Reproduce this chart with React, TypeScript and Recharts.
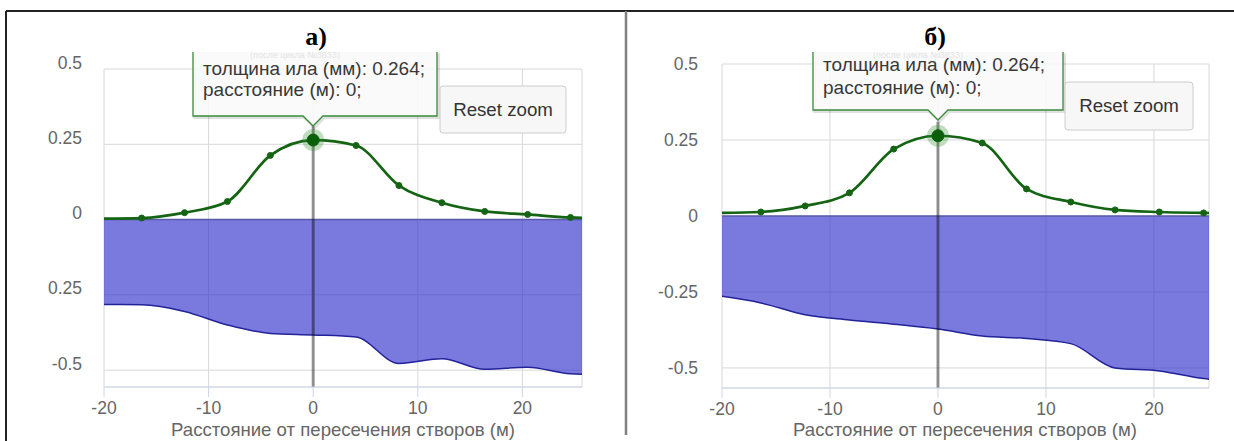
import React from 'react';
import {
  ComposedChart,
  Line,
  Area,
  XAxis,
  YAxis,
  CartesianGrid,
  ReferenceLine,
  ReferenceDot,
} from 'recharts';

// ---- data ----
const DIST = [-20.5, -16.4, -12.3, -8.2, -4.1, 0, 4.1, 8.2, 12.3, 16.4, 20.5, 24.6, 28.7];
const SILT_A = [0.003, 0.005, 0.023, 0.06, 0.213, 0.264, 0.246, 0.113, 0.056, 0.027, 0.017, 0.007, 0.004];
const DEPTH_A = [-0.282, -0.283, -0.305, -0.35, -0.378, -0.383, -0.39, -0.478, -0.462, -0.497, -0.49, -0.512, -0.515];
const SILT_B = [0.01, 0.013, 0.033, 0.076, 0.22, 0.264, 0.24, 0.089, 0.046, 0.02, 0.013, 0.01, 0.008];
const DEPTH_B = [-0.262, -0.286, -0.325, -0.342, -0.356, -0.372, -0.395, -0.403, -0.42, -0.5, -0.51, -0.535, -0.545];

const X_TICKS = [-20, -10, 0, 10, 20];
const Y_TICKS = [0.5, 0.25, 0, -0.25, -0.5];
const Y_LABELS_A = ['0.5', '0.25', '0', '0.25', '-0.5'];
const Y_LABELS_B = ['0.5', '0.25', '0', '-0.25', '-0.5'];

const TITLE_A = 'а)';
const TITLE_B = 'б)';
const X_TITLE = 'Расстояние от пересечения створов (м)';
const TIP_LINE1 = 'толщина ила (мм): 0.264;';
const TIP_LINE2 = 'расстояние (м): 0;';
const TIP_HEADER = '(после цикла №3833)';
const RESET = 'Reset zoom';
const HOVER_X = 0;
const HOVER_Y = 0.264;

const FONT = '"Liberation Sans", Arial, sans-serif';
const GREEN = '#146414';

type PanelProps = {
  silt: number[];
  depth: number[];
  xMax: number;
  yMin: number;
  yLabels: string[];
  yDy: number;
  tipY: number;
  margin: { top: number; right: number; bottom: number; left: number };
  width: number;
  xAxisHeight: number;
  yTickMargin: number;
};

function Panel(p: PanelProps) {
  const rows = DIST.map((x, i) => ({ x, silt: p.silt[i], depth: p.depth[i] }));
  return (
    <ComposedChart width={p.width} height={441} data={rows} margin={p.margin}>
      <CartesianGrid stroke="#d8d8d8" strokeWidth={1} />
      <XAxis
        type="number"
        dataKey="x"
        domain={[-20, p.xMax]}
        allowDataOverflow
        ticks={X_TICKS}
        height={p.xAxisHeight}
        axisLine={{ stroke: '#ccd6eb' }}
        tickLine={{ stroke: '#ccd6eb' }}
        tickSize={10}
        tickMargin={4}
        tick={(t: any) => (
          <text x={t.x} y={t.y} dy={13} textAnchor="middle" fill="#666" fontSize={17.5} fontFamily={FONT}>
            {t.payload.value}
          </text>
        )}
      />
      <YAxis
        type="number"
        domain={[p.yMin, 0.5]}
        allowDataOverflow
        ticks={Y_TICKS}
        width={60}
        axisLine={false}
        tickLine={false}
        tickMargin={p.yTickMargin}
        tick={(t: any) => {
          const i = Y_TICKS.indexOf(t.payload.value);
          return (
            <text x={t.x} y={t.y} dy={p.yDy} textAnchor="end" fill="#666" fontSize={17.5} fontFamily={FONT}>
              {p.yLabels[i]}
            </text>
          );
        }}
      />
      <Area
        type="monotone"
        dataKey="depth"
        fill="#3333cc"
        fillOpacity={0.65}
        stroke="#22229a"
        strokeWidth={1.5}
        dot={false}
        activeDot={false}
        isAnimationActive={false}
      />
      <ReferenceLine y={0} stroke="#5a5aa8" strokeWidth={1.5} />
      <ReferenceLine
        segment={[
          { x: HOVER_X, y: p.tipY },
          { x: HOVER_X, y: p.yMin },
        ]}
        stroke="#000"
        strokeOpacity={0.4}
        strokeWidth={3}
      />
      <Line
        type="monotone"
        dataKey="silt"
        stroke={GREEN}
        strokeWidth={2.7}
        dot={{ r: 3, fill: GREEN, stroke: GREEN, strokeWidth: 1 }}
        activeDot={false}
        isAnimationActive={false}
      />
      <ReferenceDot x={HOVER_X} y={HOVER_Y} r={11} fill="#2f8f2f" fillOpacity={0.3} stroke="none" />
      <ReferenceDot x={HOVER_X} y={HOVER_Y} r={6} fill="#0b5f0b" stroke="#0b5f0b" />
    </ComposedChart>
  );
}

type OverlayProps = {
  cx: number;
  boxL: number;
  boxR: number;
  boxB: number;
  tipB: number;
  textX: number;
  line1Y: number;
  line2Y: number;
  btn: { x: number; y: number; w: number; h: number };
  title: string;
  titleX: number;
  axisTitleX: number;
  id: string;
};

function Overlay(o: OverlayProps) {
  const top = 52;
  const path = `M${o.boxL},${top} L${o.boxL},${o.boxB} L${o.cx - 10},${o.boxB} L${o.cx},${o.tipB} L${o.cx + 10},${o.boxB} L${o.boxR},${o.boxB} L${o.boxR},${top}`;
  return (
    <g>
      <defs>
        <clipPath id={`clip-${o.id}`}>
          <rect x={0} y={top} width={1234} height={441} />
        </clipPath>
      </defs>
      <path d={path} transform="translate(1.5,1.5)" fill="none" stroke="rgba(0,0,0,0.12)" strokeWidth={3} />
      <path d={path} fill="rgba(249,249,249,0.88)" stroke="#3a8a3a" strokeWidth={1.3} />
      <g clipPath={`url(#clip-${o.id})`}>
        <text x={(o.boxL + o.boxR) / 2 - 20} y={58} textAnchor="middle" fill="#e4e4e4" fontSize={9} fontFamily={FONT}>
          {TIP_HEADER}
        </text>
      </g>
      <text x={o.textX} y={o.line1Y} fill="#383838" fontSize={19} fontFamily={FONT}>
        {TIP_LINE1}
      </text>
      <text x={o.textX} y={o.line2Y} fill="#383838" fontSize={19} fontFamily={FONT}>
        {TIP_LINE2}
      </text>
      <rect x={o.btn.x} y={o.btn.y} width={o.btn.w} height={o.btn.h} rx={3} fill="#f7f7f7" stroke="#cccccc" />
      <text
        x={o.btn.x + o.btn.w / 2}
        y={o.btn.y + o.btn.h / 2 + 6}
        textAnchor="middle"
        fill="#333"
        fontSize={18.7}
        fontFamily={FONT}
      >
        {RESET}
      </text>
      <text x={o.titleX} y={45} textAnchor="middle" fill="#000" fontSize={26} fontWeight="bold" fontFamily='"Liberation Serif", "Times New Roman", serif'>
        {o.title}
      </text>
      <text x={o.axisTitleX} y={436} textAnchor="middle" fill="#666" fontSize={18.6} fontFamily={FONT}>
        {X_TITLE}
      </text>
    </g>
  );
}

export default function App() {
  return (
    <div
      style={{
        position: 'absolute',
        left: 0,
        top: 0,
        width: 1234,
        height: 441,
        background: '#fff',
        overflow: 'hidden',
        fontFamily: FONT,
      }}
    >
      <div style={{ position: 'absolute', left: 0, top: 0 }}>
        <Panel
          silt={SILT_A}
          depth={DEPTH_A}
          xMax={25.7}
          yMin={-0.556}
          yLabels={Y_LABELS_A}
          yDy={-0.5}
          tipY={0.31}
          width={620}
          margin={{ top: 69, right: 38, bottom: 0, left: 44 }}
          xAxisHeight={54}
          yTickMargin={16}
        />
      </div>
      <div style={{ position: 'absolute', left: 620, top: 0 }}>
        <Panel
          silt={SILT_B}
          depth={DEPTH_B}
          xMax={25.1}
          yMin={-0.566}
          yLabels={Y_LABELS_B}
          yDy={6}
          tipY={0.31}
          width={614}
          margin={{ top: 64, right: 25, bottom: 0, left: 42 }}
          xAxisHeight={53}
          yTickMargin={18}
        />
      </div>
      <svg width={1234} height={441} style={{ position: 'absolute', left: 0, top: 0, pointerEvents: 'none' }}>
        <Overlay
          id="a"
          cx={313}
          boxL={193}
          boxR={437}
          boxB={116}
          tipB={126}
          textX={203}
          line1Y={75}
          line2Y={96}
          btn={{ x: 440, y: 86, w: 126, h: 47 }}
          title={TITLE_A}
          titleX={316}
          axisTitleX={343}
        />
        <Overlay
          id="b"
          cx={938}
          boxL={813}
          boxR={1063}
          boxB={110}
          tipB={120}
          textX={823}
          line1Y={71}
          line2Y={94}
          btn={{ x: 1065, y: 82, w: 128, h: 48 }}
          title={TITLE_B}
          titleX={935}
          axisTitleX={965}
        />
        <line x1={6} y1={11} x2={1234} y2={11} stroke="#222" strokeWidth={2} />
        <line x1={6} y1={11} x2={6} y2={441} stroke="#222" strokeWidth={2} />
        <line x1={626} y1={11} x2={626} y2={435} stroke="#808080" strokeWidth={2.5} />
      </svg>
    </div>
  );
}
